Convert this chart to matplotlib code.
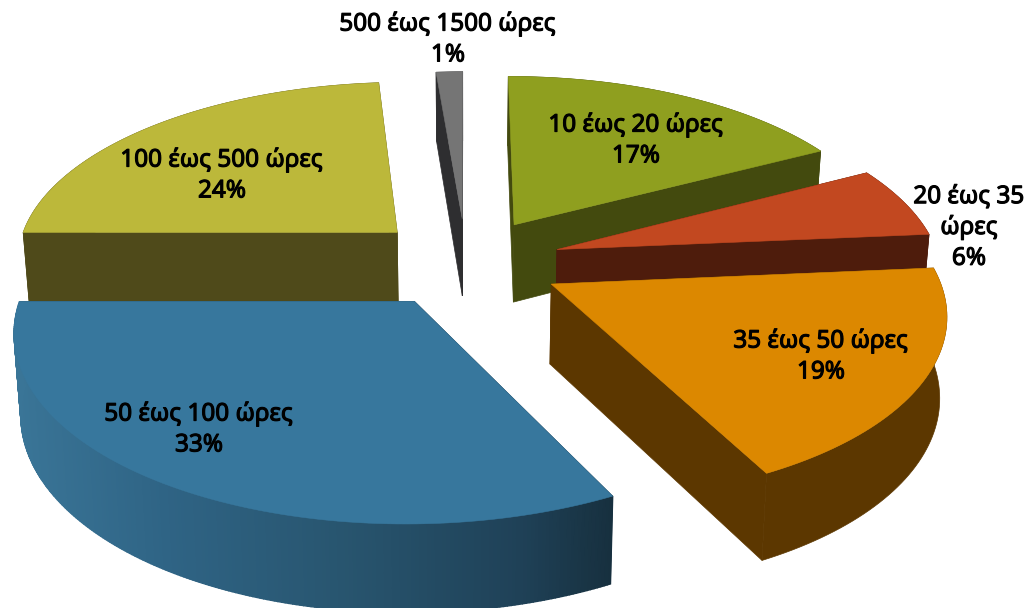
import numpy as np
import matplotlib
matplotlib.use("Agg")
import matplotlib.pyplot as plt
import matplotlib.patheffects as pe
from matplotlib.patches import Polygon
from matplotlib.colors import to_rgb

categories = ["10 έως 20 ώρες", "20 έως 35 ώρες", "35 έως 50 ώρες",
              "50 έως 100 ώρες", "100 έως 500 ώρες", "500 έως 1500 ώρες"]
shares = [17.3, 6.3, 18.9, 32.5, 23.7, 1.3]
top_colors = ["#8F9F1F", "#C24820", "#DC8800", "#37779D", "#BCB83A", "#757575"]
face_colors = ["#434A0E", "#4E1C0C", "#5C3700", "#17303F", "#4F4A1A", "#2E2E30"]
label_text = ["10 έως 20 ώρες\n17%", "20 έως 35\nώρες\n6%", "35 έως 50 ώρες\n19%",
              "50 έως 100 ώρες\n33%", "100 έως 500 ώρες\n24%", "500 έως 1500 ώρες\n1%"]
label_pos = [(636, 141), (969, 228), (821, 357), (199, 430), (222, 176), (448, 40)]
grad_stops = [0.0, 0.25, 0.55, 0.85, 1.0]
grad_colors = ["#3A7597", "#2F6485", "#28556F", "#1F4157", "#17303F"]

CX, CY, RX, RY, K, EXPL = 466, 262, 383, 179, 0.141, 0.25
SHRINK = 0.985


def project(X, Y, bottom=False):
    X, Y = np.asarray(X, float), np.asarray(Y, float)
    w = 1 + K * Y
    sx = RX * X / w
    sy = CY - RY * Y / w
    if bottom:
        sx = sx * SHRINK
        sy = sy + 79 - 8 * Y
    return CX + sx, sy


fig = plt.figure(figsize=(10.25, 6.08), dpi=100)
ax = fig.add_axes([0, 0, 1, 1])
ax.set_xlim(0, 1025)
ax.set_ylim(608, 0)
ax.axis("off")

edges = np.cumsum([0] + shares) / sum(shares) * 2 * np.pi
slices = []
for i in range(len(shares)):
    a0, a1 = edges[i], edges[i + 1]
    mid = (a0 + a1) / 2
    ox, oy = EXPL * np.sin(mid), EXPL * np.cos(mid)
    t = np.linspace(a0, a1, max(int(shares[i] * 3), 6))
    slices.append((ox, oy, t))

grad_rgb = np.array([to_rgb(c) for c in grad_colors])
order = [5, 0, 4, 1, 2, 3]
for i in order:
    ox, oy, t = slices[i]
    X = ox + np.sin(t)
    Y = oy + np.cos(t)
    tx, ty = project(X, Y)
    bx, by = project(X, Y, True)
    ax0, ay0 = project(ox, oy)
    bx0, by0 = project(ox, oy, True)
    for j in (0, -1):
        ax.add_patch(Polygon([(ax0, ay0), (tx[j], ty[j]), (bx[j], by[j]), (bx0, by0)],
                             closed=True, fc=face_colors[i], ec=face_colors[i], lw=0.5))
    if i == 3:
        xt = np.linspace(t[0], t[-1], 240)
        Xf, Yf = ox + np.sin(xt), oy + np.cos(xt)
        fx, fy = project(Xf, Yf)
        gx, gy = project(Xf, Yf, True)
        for q in range(len(xt) - 1):
            u = (fx[q] - fx.min()) / (fx.max() - fx.min())
            c = [np.interp(u, grad_stops, grad_rgb[:, k]) for k in range(3)]
            ax.add_patch(Polygon([(fx[q], fy[q]), (fx[q + 1], fy[q + 1]),
                                  (gx[q + 1], gy[q + 1]), (gx[q], gy[q])],
                                 closed=True, fc=c, ec=c, lw=1.0))
    else:
        ax.add_patch(Polygon(np.r_[np.c_[tx, ty], np.c_[bx, by][::-1]], closed=True,
                             fc=face_colors[i], ec=face_colors[i], lw=0.5))
    ax.add_patch(Polygon(np.r_[[(ax0, ay0)], np.c_[tx, ty]], closed=True,
                         fc=top_colors[i], ec=top_colors[i], lw=0.4))

for txt, (x, y) in zip(label_text, label_pos):
    ax.text(x, y, txt, ha="center", va="center", fontsize=17.5,
            family=["Noto Sans", "DejaVu Sans"], color="black", linespacing=1.38,
            path_effects=[pe.withStroke(linewidth=0.8, foreground="black")])

fig.savefig("out.png", dpi=100)
